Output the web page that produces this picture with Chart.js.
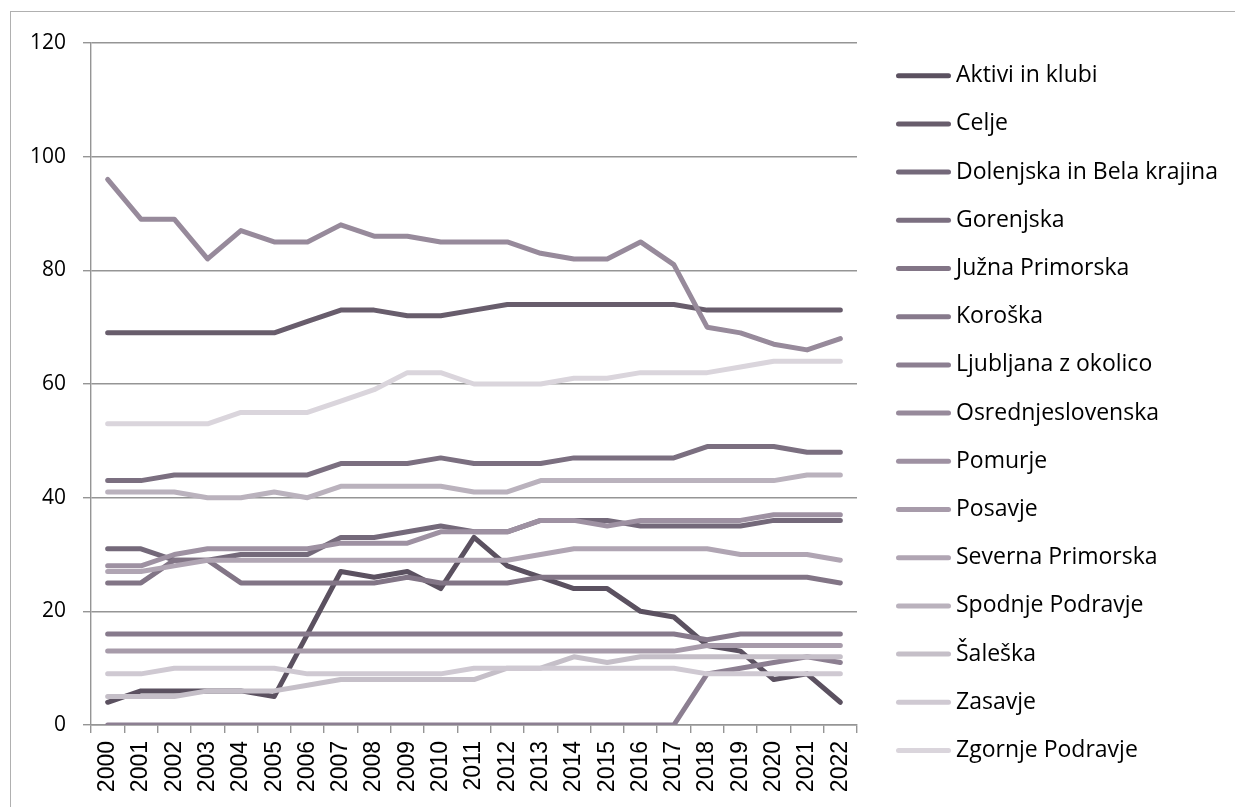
<!DOCTYPE html>
<html>
<head>
<meta charset="utf-8">
<script src="https://cdn.jsdelivr.net/npm/chart.js@4.4.1/dist/chart.umd.min.js"></script>
<style>
  html, body { margin: 0; padding: 0; background: #ffffff; overflow: hidden; }
  #frame { position: absolute; left: 10px; top: 11px; width: 1400px; height: 1000px; border: 1px solid #b0b0b0; box-sizing: border-box; }
  #wrap { position: absolute; left: 0; top: 0; width: 1235px; height: 807px; }
</style>
</head>
<body>
<div id="frame"></div>
<div id="wrap"><canvas id="c" width="1235" height="807"></canvas></div>
<script>
const years = ['2000','2001','2002','2003','2004','2005','2006','2007','2008','2009','2010','2011','2012','2013','2014','2015','2016','2017','2018','2019','2020','2021','2022'];
const yTicks = [0, 20, 40, 60, 80, 100, 120];

const seriesNames = ['Aktivi in klubi','Celje','Dolenjska in Bela krajina','Gorenjska','Južna Primorska','Koroška','Ljubljana z okolico','Osrednjeslovenska','Pomurje','Posavje','Severna Primorska','Spodnje Podravje','Šaleška','Zasavje','Zgornje Podravje'];

const aktiviInKlubi     = [4,6,6,6,6,5,16,27,26,27,24,33,28,26,24,24,20,19,14,13,8,9,4];
const celje             = [69,69,69,69,69,69,71,73,73,72,72,73,74,74,74,74,74,74,73,73,73,73,73];
const dolenjska         = [31,31,29,29,30,30,30,33,33,34,35,34,34,36,36,36,35,35,35,35,36,36,36];
const gorenjska         = [43,43,44,44,44,44,44,46,46,46,47,46,46,46,47,47,47,47,49,49,49,48,48];
const juznaPrimorska    = [25,25,29,29,25,25,25,25,25,26,25,25,25,26,26,26,26,26,26,26,26,26,25];
const koroska           = [16,16,16,16,16,16,16,16,16,16,16,16,16,16,16,16,16,16,15,16,16,16,16];
const ljubljanaZOkolico = [0,0,0,0,0,0,0,0,0,0,0,0,0,0,0,0,0,0,9,10,11,12,11];
const osrednjeslovenska = [96,89,89,82,87,85,85,88,86,86,85,85,85,83,82,82,85,81,70,69,67,66,68];
const pomurje           = [28,28,30,31,31,31,31,32,32,32,34,34,34,36,36,35,36,36,36,36,37,37,37];
const posavje           = [13,13,13,13,13,13,13,13,13,13,13,13,13,13,13,13,13,13,14,14,14,14,14];
const severnaPrimorska  = [27,27,28,29,29,29,29,29,29,29,29,29,29,30,31,31,31,31,31,30,30,30,29];
const spodnjePodravje   = [41,41,41,40,40,41,40,42,42,42,42,41,41,43,43,43,43,43,43,43,43,44,44];
const saleska           = [5,5,5,6,6,6,7,8,8,8,8,8,10,10,12,11,12,12,12,12,12,12,12];
const zasavje           = [9,9,10,10,10,10,9,9,9,9,9,10,10,10,10,10,10,10,9,9,9,9,9];
const zgornjePodravje   = [53,53,53,53,55,55,55,57,59,62,62,60,60,60,61,61,62,62,62,63,64,64,64];

const seriesValues = [aktiviInKlubi, celje, dolenjska, gorenjska, juznaPrimorska, koroska, ljubljanaZOkolico, osrednjeslovenska, pomurje, posavje, severnaPrimorska, spodnjePodravje, saleska, zasavje, zgornjePodravje];
const seriesColors = ['#5b5160','#685d6c','#74697a','#7b6f80','#827586','#877a8c','#8c7f91','#978a9b','#9e91a2','#a79baa','#b0a5b3','#bab2bd','#c5bfc8','#cfc9d2','#dad5dc'];

const datasets = seriesNames.map((name, i) => ({
  label: name,
  data: seriesValues[i],
  borderColor: seriesColors[i],
  backgroundColor: seriesColors[i],
  borderWidth: 5,
  pointRadius: 0,
  pointHoverRadius: 0,
  tension: 0,
  fill: false,
  borderCapStyle: 'round',
  borderJoinStyle: 'round',
  order: seriesNames.length - i
}));

const legendPlugin = {
  id: 'sideLegend',
  afterDraw(chart) {
    const ctx = chart.ctx;
    ctx.save();
    const x0 = 898.5, x1 = 948.5, textX = 956, y0 = 75.7, step = 48.2;
    chart.data.datasets.forEach((ds, i) => {
      const y = y0 + i * step;
      ctx.beginPath();
      ctx.lineWidth = 5;
      ctx.lineCap = 'round';
      ctx.strokeStyle = ds.borderColor;
      ctx.moveTo(x0, y);
      ctx.lineTo(x1, y);
      ctx.stroke();
      ctx.fillStyle = '#000000';
      ctx.font = '23px "Open Sans"';
      ctx.textBaseline = 'middle';
      ctx.textAlign = 'left';
      ctx.fillText(ds.label, textX, y);
    });
    ctx.restore();
  }
};

new Chart(document.getElementById('c'), {
  type: 'line',
  data: { labels: years, datasets: datasets },
  options: {
    responsive: false,
    animation: false,
    events: [],
    layout: { padding: { top: 43, right: 378, left: 0, bottom: 0 } },
    plugins: { legend: { display: false }, tooltip: { enabled: false } },
    scales: {
      x: {
        offset: true,
        grid: { offset: true, drawOnChartArea: false, drawTicks: true, tickLength: 8, color: '#959595', lineWidth: 1.4 },
        border: { display: true, color: '#959595', width: 1.4 },
        ticks: { autoSkip: false, maxRotation: 90, minRotation: 90, padding: 8, color: '#000000', font: { family: '"Liberation Sans"', size: 23 } },
        afterFit(scale) { scale.height = 82; }
      },
      y: {
        min: 0, max: 120,
        afterBuildTicks(scale) { scale.ticks = yTicks.map(v => ({ value: v })); },
        grid: { color: '#959595', lineWidth: 1.4, tickLength: 8, drawTicks: true },
        border: { display: true, color: '#959595', width: 1.4 },
        ticks: { padding: 17, color: '#000000', font: { family: '"Open Sans"', size: 21 } },
        afterFit(scale) { scale.width = 91; }
      }
    }
  },
  plugins: [legendPlugin]
});
</script>
</body>
</html>
